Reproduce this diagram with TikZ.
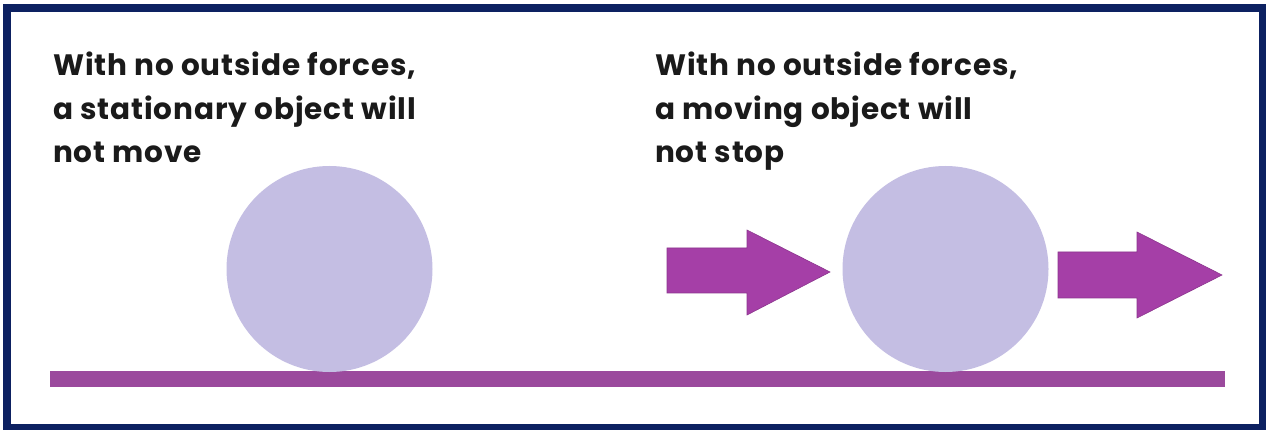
\documentclass[tikz,border=0pt]{standalone}
\usepackage{fontspec}
\setmainfont{Poppins}[LetterSpace=3]
\definecolor{navy}{HTML}{0D2161}
\definecolor{ball}{HTML}{C4BEE3}
\definecolor{ground}{HTML}{9B4A9D}
\definecolor{arrowfill}{HTML}{A53FA7}
\definecolor{txt}{HTML}{1A1A1A}
\begin{document}
\begin{tikzpicture}[x=1pt,y=-1pt,
  caption/.style={anchor=north west,inner sep=0pt,align=left,text=txt,
    font=\fontsize{29.5}{43.5}\selectfont\bfseries},
  ballshape/.style={circle,fill=ball,inner sep=0pt,minimum size=206pt},
  bigarrow/.style={fill=arrowfill,draw=arrowfill!85!black,line width=0.6pt,line join=miter}]
\useasboundingbox (0,0) rectangle (1266,430);
\fill[white] (0,0) rectangle (1266,430);
\draw[navy,line width=8pt] (7,8) rectangle (1262.5,427.5);
% ground
\fill[ground] (50,371) rectangle (1225,387);
% balls
\node[ballshape] (ballA) at (329.5,269) {};
\node[ballshape] (ballB) at (945.5,269) {};
% arrows
\path[bigarrow] (667,248) -- (747,248) -- (747,230) -- (830,272) -- (747,315) -- (747,293) -- (667,293) -- cycle;
\path[bigarrow] (1058,252) -- (1137,252) -- (1137,232) -- (1222,275) -- (1137,318) -- (1137,298) -- (1058,298) -- cycle;
% texts
\node[caption] (textA) at (53,52) {With no outside forces,\\a stationary object will\\not move};
\node[caption] (textB) at (655,52) {With no outside forces,\\a moving object will\\not stop};
\end{tikzpicture}
\end{document}
